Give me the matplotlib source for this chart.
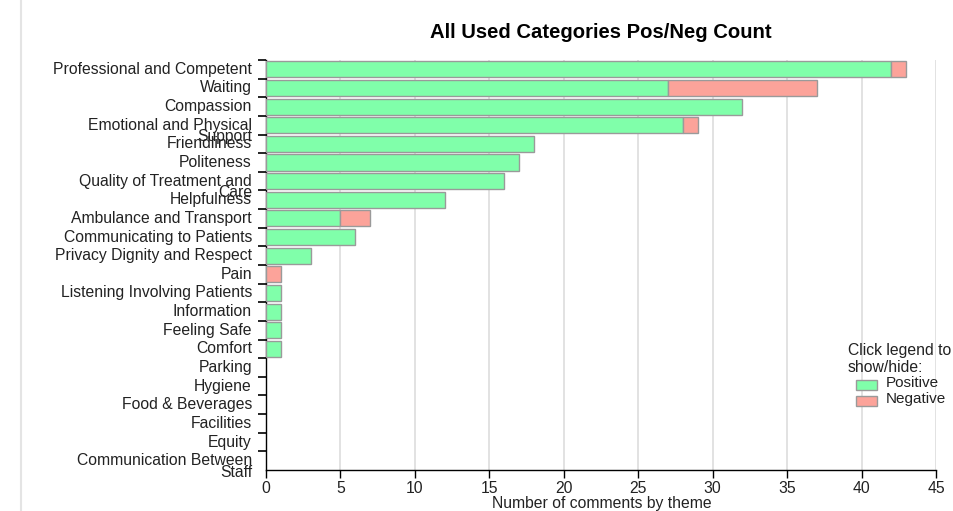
import numpy as np
import matplotlib
matplotlib.use('Agg')
import matplotlib.pyplot as plt
from matplotlib.patches import Rectangle

plt.rcParams['font.family'] = ['Liberation Sans', 'DejaVu Sans']

# ==================== 数据 ====================
categories = [
    'Professional and Competent', 'Waiting', 'Compassion',
    'Emotional and Physical\nSupport', 'Friendliness', 'Politeness',
    'Quality of Treatment and\nCare', 'Helpfulness', 'Ambulance and Transport',
    'Communicating to Patients', 'Privacy Dignity and Respect', 'Pain',
    'Listening Involving Patients', 'Information', 'Feeling Safe', 'Comfort',
    'Parking', 'Hygiene', 'Food & Beverages', 'Facilities', 'Equity',
    'Communication Between\nStaff',
]
positive = [42, 27, 32, 28, 18, 17, 16, 12, 5, 6, 3, 0, 1, 1, 1, 1, 0, 0, 0, 0, 0, 0]
negative = [1, 10, 0, 1, 0, 0, 0, 0, 2, 0, 0, 1, 0, 0, 0, 0, 0, 0, 0, 0, 0, 0]

POS_COLOR = '#80ffaa'
NEG_COLOR = '#fca39a'
EDGE = '#9a9a9a'
TXT = '#222222'
FS = 11.3

fig = plt.figure(figsize=(9.54, 5.11), dpi=100)
ax = fig.add_axes([266 / 954, 1 - 470 / 511, 670 / 954, 410 / 511])

n = len(categories)
y = np.arange(n)
# 值为0的条不画边框
lw_pos = [1 if v > 0 else 0 for v in positive]
lw_neg = [1 if v > 0 else 0 for v in negative]
ax.barh(y, positive, height=0.86, color=POS_COLOR, edgecolor=EDGE, linewidth=lw_pos, zorder=3)
ax.barh(y, negative, left=positive, height=0.86, color=NEG_COLOR, edgecolor=EDGE, linewidth=lw_neg, zorder=3)

ax.set_xlim(0, 45)
ax.set_ylim(n - 0.5, -0.5)
ax.set_xticks(np.arange(0, 46, 5))
ax.tick_params(axis='x', length=6, width=1, pad=2, labelsize=FS, colors='black', labelcolor=TXT)
ax.grid(axis='x', color='#dddddd', linewidth=1.2, zorder=0)

# y 轴: 刻度在分组边界, 标签在中心, 换行标签第二行下移
ax.set_yticks(np.arange(n) - 0.5)
ax.set_yticklabels([])
ax.tick_params(axis='y', length=6, width=1.2)
for i, lab in enumerate(categories):
    for j, line in enumerate(lab.split('\n')):
        ax.text(-0.021, i + j * 0.62, line, transform=ax.get_yaxis_transform(),
                ha='right', va='center', fontsize=FS, color=TXT)

for s in ['top', 'right']:
    ax.spines[s].set_visible(False)
ax.spines['left'].set_linewidth(1)
ax.spines['bottom'].set_linewidth(1)

fig.text(602 / 954, 1 - 503 / 511, 'Number of comments by theme',
         ha='center', va='center', fontsize=FS, color=TXT)
fig.text(601 / 954, 1 - 32 / 511, 'All Used Categories Pos/Neg Count',
         ha='center', va='center', fontsize=14.6, fontweight='bold')

# 图例
fig.text(848 / 954, 1 - 350 / 511, 'Click legend to', ha='left', va='center', fontsize=11.3, color=TXT)
fig.text(848 / 954, 1 - 368 / 511, 'show/hide:', ha='left', va='center', fontsize=11.3, color=TXT)
for k, (lab, col) in enumerate([('Positive', POS_COLOR), ('Negative', NEG_COLOR)]):
    yc = 385 + k * 16
    fig.patches.append(Rectangle((856 / 954, 1 - (yc + 5) / 511), 21 / 954, 10 / 511,
                                 transform=fig.transFigure, facecolor=col, edgecolor=EDGE, linewidth=1))
    fig.text(886 / 954, 1 - (yc - 2) / 511, lab, ha='left', va='center', fontsize=11, color=TXT)

# 页面边框
fig.add_artist(plt.Line2D([21 / 954, 21 / 954], [0, 1], transform=fig.transFigure, color='#e4e4e4', linewidth=1.5))

fig.savefig('out.png', dpi=100)
